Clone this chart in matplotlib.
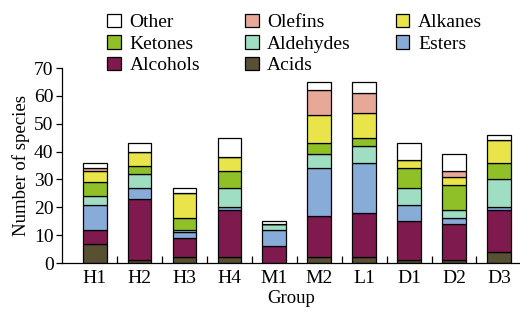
import matplotlib
matplotlib.use("Agg")
import matplotlib.pyplot as plt
import numpy as np

plt.rcParams['font.family'] = ['Liberation Serif', 'DejaVu Serif']

groups = ["H1", "H2", "H3", "H4", "M1", "M2", "L1", "D1", "D2", "D3"]

# stacked bottom -> top
acids     = [7, 1, 2, 2, 0, 2, 2, 1, 1, 4]
alcohols  = [5, 22, 7, 17, 6, 15, 16, 14, 13, 15]
esters    = [9, 4, 2, 1, 6, 17, 18, 6, 2, 1]
aldehydes = [3, 5, 1, 7, 2, 5, 6, 6, 3, 10]
ketones   = [5, 3, 4, 6, 0, 4, 3, 7, 9, 6]
alkanes   = [4, 5, 9, 5, 0, 10, 9, 3, 3, 8]
olefins   = [1, 0, 0, 0, 0, 9, 7, 0, 2, 0]
other     = [2, 3, 2, 7, 1, 3, 4, 6, 6, 2]

series = [
    ("Acids", acids, "#575032"),
    ("Alcohols", alcohols, "#7f1a4e"),
    ("Esters", esters, "#88acd8"),
    ("Aldehydes", aldehydes, "#a0dec4"),
    ("Ketones", ketones, "#8fc028"),
    ("Alkanes", alkanes, "#e8e44a"),
    ("Olefins", olefins, "#e8a898"),
    ("Other", other, "#ffffff"),
]

fig = plt.figure(figsize=(5.2, 3.12), dpi=100)
ax = fig.add_axes([0.119, 0.157, 0.881, 0.625])

x = np.arange(len(groups))
bottom = np.zeros(len(groups))
bars = {}
for name, vals, col in series:
    vals = np.array(vals, dtype=float)
    bars[name] = ax.bar(x, vals, 0.53, bottom=bottom, color=col,
                        edgecolor="black", linewidth=0.9, label=name)
    bottom += vals

ax.set_xlim(-0.73, 9.47)
ax.set_ylim(0, 70)
ax.set_yticks(range(0, 71, 10))
ax.set_xticks(x)
ax.set_xticklabels(groups)
ax.set_xticks(x[:-1] + 0.5, minor=True)
ax.tick_params(axis="x", which="major", length=0, labelsize=14, pad=5)
ax.tick_params(axis="x", which="minor", direction="in", length=5, width=0.9)
ax.tick_params(axis="y", direction="out", length=4, width=0.9, labelsize=14, pad=2)
for s in ["top", "right"]:
    ax.spines[s].set_visible(False)
for s in ["left", "bottom"]:
    ax.spines[s].set_linewidth(0.9)

ax.set_xlabel("Group", fontsize=13.5, labelpad=2)
ax.set_ylabel("Number of species", fontsize=13.5, labelpad=3)

order = ["Other", "Ketones", "Alcohols", "Olefins", "Aldehydes", "Acids", "Alkanes", "Esters"]
fig.legend([bars[n] for n in order], order, ncol=3, loc="upper left",
           bbox_to_anchor=(0.18, 1.0), frameon=False, fontsize=14,
           handlelength=0.7, handleheight=0.7, handletextpad=0.45,
           columnspacing=2.3, labelspacing=0.2, borderpad=0.2)

fig.savefig("out.png", dpi=100)
